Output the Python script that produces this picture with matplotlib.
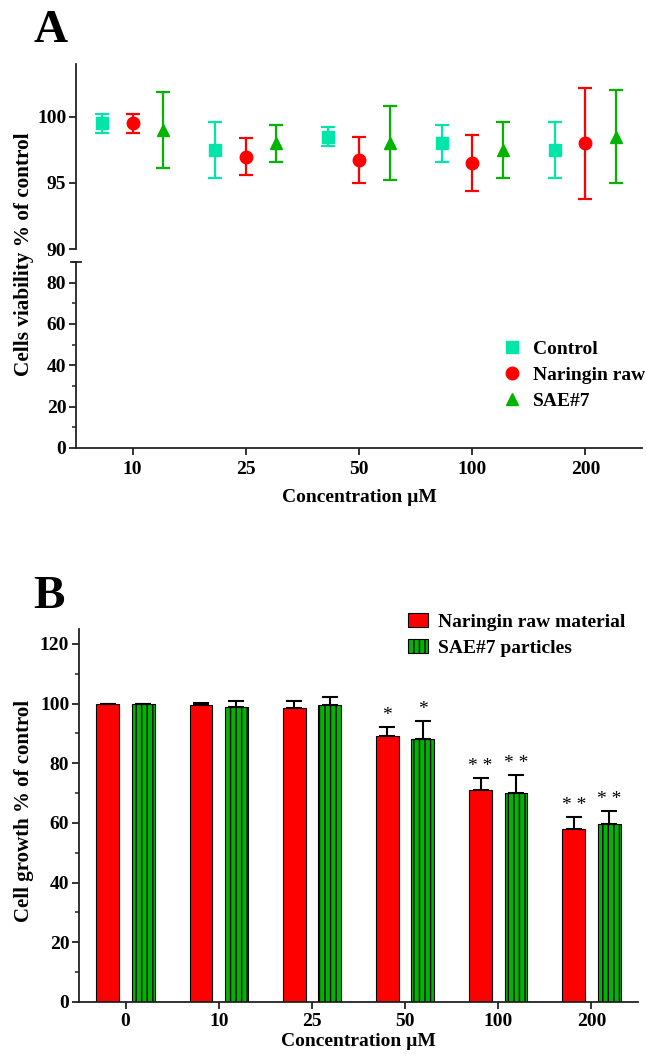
import matplotlib
matplotlib.use("Agg")
import matplotlib.pyplot as plt
import numpy as np
from matplotlib.lines import Line2D
from matplotlib.patches import Patch
from matplotlib.ticker import MultipleLocator

plt.rcParams['font.family'] = ['Liberation Serif', 'DejaVu Serif']
plt.rcParams['font.weight'] = 'bold'
plt.rcParams['axes.labelweight'] = 'bold'
plt.rcParams['hatch.linewidth'] = 1.0

# ---- panel A data (cell viability, mean and SD) ----
conc_a = ["10", "25", "50", "100", "200"]
control_mean = [99.5, 97.5, 98.5, 98.0, 97.5]
control_sd = [0.7, 2.1, 0.7, 1.4, 2.1]
naringin_mean = [99.5, 97.0, 96.75, 96.5, 98.0]
naringin_sd = [0.7, 1.4, 1.75, 2.1, 4.2]
sae_mean = [99.0, 98.0, 98.0, 97.5, 98.5]
sae_sd = [2.85, 1.4, 2.8, 2.1, 3.5]

# ---- panel B data (cell growth) ----
conc_b = ["0", "10", "25", "50", "100", "200"]
raw_growth = [100, 99.5, 98.6, 89.0, 71.0, 58.0]
raw_err = [0, 0.7, 2.4, 3.1, 4.1, 4.1]
sae_growth = [100, 99.0, 99.5, 88.0, 70.0, 59.5]
sae_err = [0, 2.0, 2.7, 6.1, 6.1, 4.6]
raw_sig = ["", "", "", "*", "* *", "* *"]
sae_sig = ["", "", "", "*", "* *", "* *"]

c_control = "#00E6A8"
c_red = "#FF0000"
c_green = "#00B400"
spine_c = "#222222"

W, H = 646, 1059
fig = plt.figure(figsize=(W / 100, H / 100), dpi=100)


def box(x0, y0, x1, y1):
    # pixel box (top-left origin) -> figure fraction rect
    return [x0 / W, 1 - y1 / H, (x1 - x0) / W, (y1 - y0) / H]


def style(ax):
    for s in ["top", "right"]:
        ax.spines[s].set_visible(False)
    for s in ["left", "bottom"]:
        ax.spines[s].set_linewidth(1.3)
        ax.spines[s].set_color(spine_c)
    ax.tick_params(which="major", length=5, width=1.3, labelsize=14, pad=2, color=spine_c)
    ax.tick_params(which="minor", length=3, width=1.1, color=spine_c)


ax_top = fig.add_axes(box(76, 64, 642, 249))
ax_bot = fig.add_axes(box(76, 262, 642, 448))
xa = np.arange(len(conc_a))
off = 0.27
for ax in (ax_top, ax_bot):
    style(ax)
    ax.set_xlim(-0.5, 4.5)
    kw = dict(ls="none", elinewidth=1.6, capsize=5, capthick=1.6, markersize=9)
    ax.errorbar(xa - off, control_mean, yerr=control_sd, fmt="s", color=c_control, **kw)
    ax.errorbar(xa, naringin_mean, yerr=naringin_sd, fmt="o", color=c_red, **kw)
    ax.errorbar(xa + off, sae_mean, yerr=sae_sd, fmt="^", color=c_green, **kw)

ax_top.set_ylim(90, 104)
ax_top.set_yticks([90, 95, 100])
ax_top.spines["bottom"].set_visible(False)
ax_top.tick_params(axis="x", which="both", bottom=False, labelbottom=False)

ax_bot.set_ylim(0, 90)
ax_bot.set_yticks([0, 20, 40, 60, 80])
ax_bot.yaxis.set_minor_locator(MultipleLocator(10))
ax_bot.set_xticks(xa)
ax_bot.set_xticklabels(conc_a)
ax_bot.tick_params(axis="x", pad=4)
# small cap at the top of the broken axis
ax_bot.plot([-0.008, 0.008], [1, 1], transform=ax_bot.transAxes, color=spine_c,
            lw=1.3, clip_on=False)
ax_bot.set_xlabel("Concentration µM", fontsize=14, labelpad=8)

handles_a = [
    Line2D([], [], ls="none", marker="s", color=c_control, markersize=9),
    Line2D([], [], ls="none", marker="o", color=c_red, markersize=9),
    Line2D([], [], ls="none", marker="^", color=c_green, markersize=9),
]
fig.legend(handles_a, ["Control", "Naringin raw", "SAE#7"], loc="upper left",
           bbox_to_anchor=(502 / W, 1 - 340 / H), frameon=False, fontsize=14,
           handlelength=1.0, handletextpad=0.6, labelspacing=0.43,
           borderpad=0, borderaxespad=0)

fig.text(24 / W, 1 - 254 / H, "Cells viability % of control", rotation=90,
         fontsize=15.3, ha="center", va="center")
fig.text(33 / W, 1 - 42 / H, "A", fontsize=34, ha="left", va="baseline")

# ---- panel B ----
axb = fig.add_axes(box(79, 629, 638, 1002))
style(axb)
xb = np.arange(len(conc_b))
bw = 0.245
boff = 0.19
axb.bar(xb - boff, raw_growth, bw, color=c_red, edgecolor="black", linewidth=0.8,
        label="Naringin raw material")
axb.bar(xb + boff, sae_growth, bw, color=c_green, edgecolor="black", linewidth=0.8,
        hatch="|||", label="SAE#7 particles")
ekw = dict(fmt="none", ecolor="black", elinewidth=1.5, capsize=6, capthick=1.5)
axb.errorbar(xb - boff, raw_growth, yerr=[np.zeros(len(raw_err)), raw_err], **ekw)
axb.errorbar(xb + boff, sae_growth, yerr=[np.zeros(len(sae_err)), sae_err], **ekw)
for i in range(len(conc_b)):
    if raw_sig[i]:
        axb.text(xb[i] - boff, raw_growth[i] + raw_err[i] + 1, raw_sig[i],
                 ha="center", va="bottom", fontsize=14, fontweight="normal")
    if sae_sig[i]:
        axb.text(xb[i] + boff, sae_growth[i] + sae_err[i] + 1, sae_sig[i],
                 ha="center", va="bottom", fontsize=14, fontweight="normal")

axb.set_xlim(-0.5, 5.5)
axb.set_ylim(0, 125)
axb.set_yticks([0, 20, 40, 60, 80, 100, 120])
axb.yaxis.set_minor_locator(MultipleLocator(10))
axb.set_xticks(xb)
axb.set_xticklabels(conc_b)
axb.tick_params(axis="x", pad=3)
axb.set_xlabel("Concentration µM", fontsize=14, labelpad=2)

fig.legend(handles=[Patch(facecolor=c_red, edgecolor="black", linewidth=0.8),
                    Patch(facecolor=c_green, edgecolor="black", linewidth=0.8, hatch="|||")],
           labels=["Naringin raw material", "SAE#7 particles"], loc="upper left",
           bbox_to_anchor=(408 / W, 1 - 613 / H), frameon=False, fontsize=14,
           handlelength=1.05, handleheight=0.7, handletextpad=0.5, labelspacing=0.45,
           borderpad=0, borderaxespad=0)

fig.text(24 / W, 1 - 811 / H, "Cell growth % of control", rotation=90,
         fontsize=15, ha="center", va="center")
fig.text(33 / W, 1 - 608 / H, "B", fontsize=34, ha="left", va="baseline")

fig.savefig("out.png", dpi=100)
